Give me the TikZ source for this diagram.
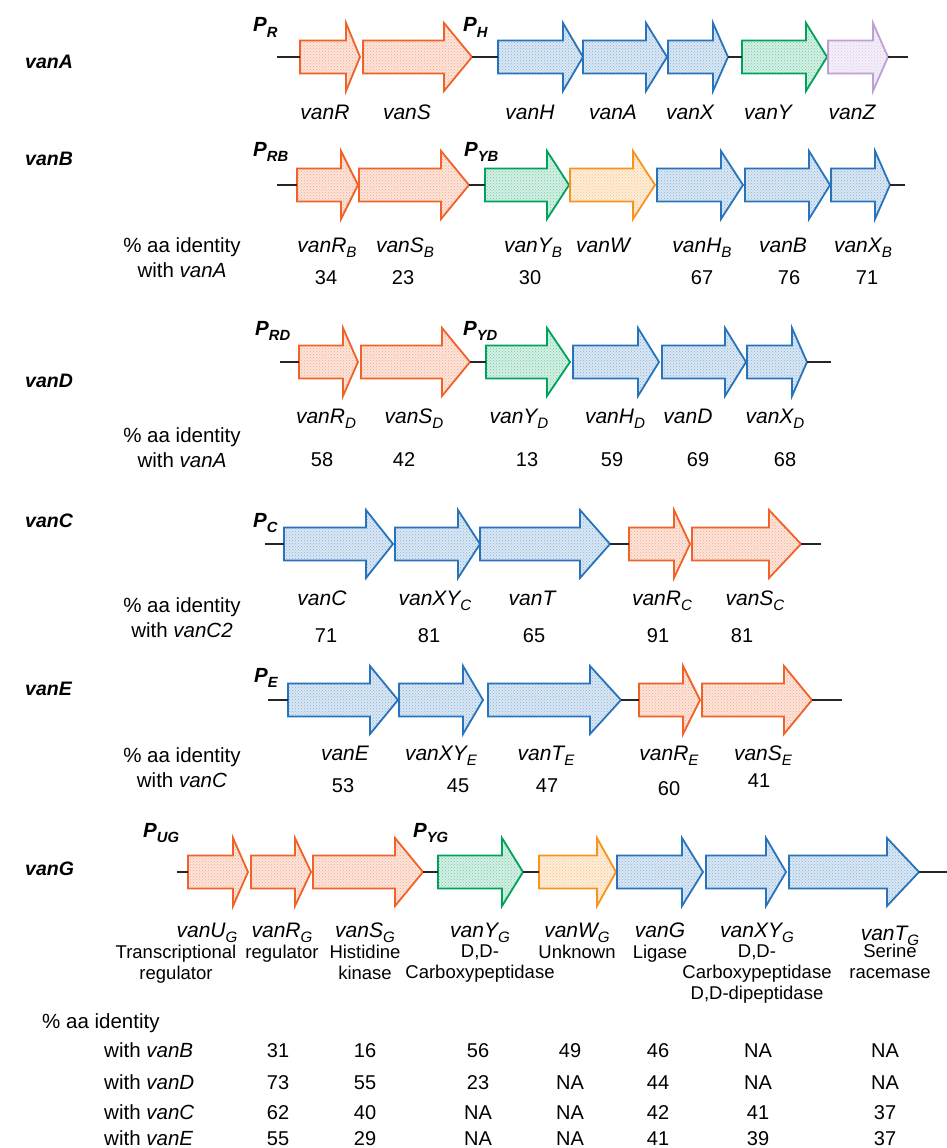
\documentclass[tikz,border=0pt]{standalone}
\usepackage{fontspec}
\setmainfont{Liberation Sans}
\usetikzlibrary{patterns}
\definecolor{vred}{RGB}{240,98,40}
\definecolor{vblue}{RGB}{40,116,188}
\definecolor{vgreen}{RGB}{0,163,92}
\definecolor{vorange}{RGB}{247,148,30}
\definecolor{vpurple}{RGB}{190,160,212}
\newcommand{\sbs}[1]{\raisebox{-0.25em}{\scalebox{0.72}{#1}}}
\newcommand{\gene}[6]{%
  \coordinate (#1-s) at (#2,#5);
  \coordinate (#1-e) at (#4,#5);
  \draw[genebox, draw=#6, preaction={fill=#6!17}, preaction={pattern=crosshatch dots, pattern color=#6!55}]
    (#2,#5-16.5) -- (#3,#5-16.5) -- (#3,#5-34) -- (#4,#5) -- (#3,#5+34) -- (#3,#5+16.5) -- (#2,#5+16.5) -- cycle;}
\tikzset{
  genebox/.style={line width=1.8pt, line join=miter},
  dna/.style={line width=1.5pt, draw=black!85},
  lbl/.style={font=\itshape\fontsize{21}{24}\selectfont, anchor=base, inner sep=0pt},
  num/.style={font=\fontsize{20}{24}\selectfont, anchor=base, inner sep=0pt},
  rowlbl/.style={font=\bfseries\itshape\fontsize{19.5}{22}\selectfont, anchor=base west, inner sep=0pt},
  prom/.style={font=\bfseries\itshape\fontsize{20.5}{22}\selectfont, anchor=base west, inner sep=0pt},
  idt/.style={font=\fontsize{20.5}{24}\selectfont, anchor=base, inner sep=0pt},
  desc/.style={font=\fontsize{18.5}{21}\selectfont, align=center, anchor=north, inner sep=0pt},
  tbl/.style={font=\fontsize{20.5}{24}\selectfont, anchor=base west, inner sep=0pt},
}
\begin{document}
\begin{tikzpicture}[x=1pt,y=-1pt]
\fill[white] (0,0) rectangle (947,1148);
\useasboundingbox (0,0) rectangle (947,1148);

% ---------------- vanA ----------------
\node[rowlbl] (rA) at (25,69) {vanA};
\coordinate (A0) at (277,57); \coordinate (A9) at (908,57);
\gene{AR}{300}{346}{360}{57}{vred}
\gene{AS}{363}{444}{472}{57}{vred}
\gene{AH}{498}{563}{583}{57}{vblue}
\gene{AA}{583}{646}{667}{57}{vblue}
\gene{AX}{668}{713}{728}{57}{vblue}
\gene{AY}{742}{806}{827}{57}{vgreen}
\gene{AZ}{828}{873}{888}{57}{vpurple}
\draw[dna] (A0) -- (AR-s);
\draw[dna] (AS-e) -- (AH-s);
\draw[dna] (AX-e) -- (AY-s);
\draw[dna] (AZ-e) -- (A9);
\node[prom] (pR) at (253,32) {P\sbs{R}};
\node[prom] (pH) at (463,32) {P\sbs{H}};
\node[lbl] (lAR) at (325,119) {vanR};
\node[lbl] (lAS) at (407,119) {vanS};
\node[lbl] (lAH) at (530,119) {vanH};
\node[lbl] (lAA) at (613,119) {vanA};
\node[lbl] (lAX) at (690,119) {vanX};
\node[lbl] (lAY) at (768,119) {vanY};
\node[lbl] (lAZ) at (852,119) {vanZ};

% ---------------- vanB ----------------
\node[rowlbl] (rB) at (25,165) {vanB};
\coordinate (B0) at (277,185); \coordinate (B9) at (905,185);
\gene{BR}{297}{341}{358}{185}{vred}
\gene{BS}{359}{441}{469}{185}{vred}
\gene{BY}{485}{547}{569}{185}{vgreen}
\gene{BW}{570}{633}{655}{185}{vorange}
\gene{BH}{657}{721}{743}{185}{vblue}
\gene{BB}{745}{809}{830}{185}{vblue}
\gene{BX}{831}{875}{890}{185}{vblue}
\draw[dna] (B0) -- (BR-s);
\draw[dna] (BS-e) -- (BY-s);
\draw[dna] (BX-e) -- (B9);
\node[prom] (pRB) at (253,156) {P\sbs{RB}};
\node[prom] (pYB) at (464,156) {P\sbs{YB}};
\node[lbl] (lBR) at (327,252) {vanR\sbs{B}};
\node[lbl] (lBS) at (405,252) {vanS\sbs{B}};
\node[lbl] (lBY) at (533,252) {vanY\sbs{B}};
\node[lbl] (lBW) at (603,252) {vanW};
\node[lbl] (lBH) at (702,252) {vanH\sbs{B}};
\node[lbl] (lBB) at (783,252) {vanB};
\node[lbl] (lBX) at (863,252) {vanX\sbs{B}};
\node[idt] (iB1) at (182,252) {\% aa identity};
\node[idt] (iB2) at (182,277) {with \textit{vanA}};
\node[num] (nB1) at (326,284) {34};
\node[num] (nB2) at (403,284) {23};
\node[num] (nB3) at (530,284) {30};
\node[num] (nB4) at (702,284) {67};
\node[num] (nB5) at (789,284) {76};
\node[num] (nB6) at (867,284) {71};

% ---------------- vanD ----------------
\node[rowlbl] (rD) at (25,387) {vanD};
\coordinate (D0) at (280,362); \coordinate (D9) at (831,362);
\gene{DR}{299}{343}{358}{362}{vred}
\gene{DS}{361}{442}{470}{362}{vred}
\gene{DY}{486}{547}{570}{362}{vgreen}
\gene{DH}{573}{638}{659}{362}{vblue}
\gene{DD}{662}{725}{746}{362}{vblue}
\gene{DX}{747}{792}{807}{362}{vblue}
\draw[dna] (D0) -- (DR-s);
\draw[dna] (DS-e) -- (DY-s);
\draw[dna] (DX-e) -- (D9);
\node[prom] (pRD) at (255,335) {P\sbs{RD}};
\node[prom] (pYD) at (463,335) {P\sbs{YD}};
\node[lbl] (lDR) at (326,423) {vanR\sbs{D}};
\node[lbl] (lDS) at (414,423) {vanS\sbs{D}};
\node[lbl] (lDY) at (519,423) {vanY\sbs{D}};
\node[lbl] (lDH) at (615,423) {vanH\sbs{D}};
\node[lbl] (lDD) at (688,423) {vanD};
\node[lbl] (lDX) at (775,423) {vanX\sbs{D}};
\node[idt] (iD1) at (182,442) {\% aa identity};
\node[idt] (iD2) at (182,467) {with \textit{vanA}};
\node[num] (nD1) at (322,466) {58};
\node[num] (nD2) at (404,466) {42};
\node[num] (nD3) at (527,466) {13};
\node[num] (nD4) at (612,466) {59};
\node[num] (nD5) at (698,466) {69};
\node[num] (nD6) at (785,466) {68};

% ---------------- vanC ----------------
\node[rowlbl] (rC) at (25,527) {vanC};
\coordinate (C0) at (265,544); \coordinate (C9) at (821,544);
\gene{CC}{284}{366}{393}{544}{vblue}
\gene{CXY}{395}{458}{480}{544}{vblue}
\gene{CT}{480}{580}{610}{544}{vblue}
\gene{CR}{629}{674}{690}{544}{vred}
\gene{CS}{692}{769}{801}{544}{vred}
\draw[dna] (C0) -- (CC-s);
\draw[dna] (CT-e) -- (CR-s);
\draw[dna] (CS-e) -- (C9);
\node[prom] (pC) at (253,527) {P\sbs{C}};
\node[lbl] (lCC) at (322,605) {vanC};
\node[lbl] (lCXY) at (435,605) {vanXY\sbs{C}};
\node[lbl] (lCT) at (532,605) {vanT};
\node[lbl] (lCR) at (662,605) {vanR\sbs{C}};
\node[lbl] (lCS) at (755,605) {vanS\sbs{C}};
\node[idt] (iC1) at (182,612) {\% aa identity};
\node[idt] (iC2) at (182,637) {with \textit{vanC2}};
\node[num] (nC1) at (326,642) {71};
\node[num] (nC2) at (429,642) {81};
\node[num] (nC3) at (534,642) {65};
\node[num] (nC4) at (658,642) {91};
\node[num] (nC5) at (742,642) {81};

% ---------------- vanE ----------------
\node[rowlbl] (rE) at (25,695) {vanE};
\coordinate (E0) at (268,700); \coordinate (E9) at (842,700);
\gene{EE}{288}{370}{398}{700}{vblue}
\gene{EXY}{399}{463}{483}{700}{vblue}
\gene{ET}{488}{590}{621}{700}{vblue}
\gene{ER}{639}{683}{700}{700}{vred}
\gene{ES}{702}{784}{812}{700}{vred}
\draw[dna] (E0) -- (EE-s);
\draw[dna] (ET-e) -- (ER-s);
\draw[dna] (ES-e) -- (E9);
\node[prom] (pE) at (254,682) {P\sbs{E}};
\node[lbl] (lEE) at (345,760) {vanE};
\node[lbl] (lEXY) at (441,760) {vanXY\sbs{E}};
\node[lbl] (lET) at (546,760) {vanT\sbs{E}};
\node[lbl] (lER) at (669,760) {vanR\sbs{E}};
\node[lbl] (lES) at (763,760) {vanS\sbs{E}};
\node[idt] (iE1) at (182,762) {\% aa identity};
\node[idt] (iE2) at (182,787) {with \textit{vanC}};
\node[num] (nE1) at (343,792) {53};
\node[num] (nE2) at (458,792) {45};
\node[num] (nE3) at (547,792) {47};
\node[num] (nE4) at (669,795) {60};
\node[num] (nE5) at (759,787) {41};

% ---------------- vanG ----------------
\node[rowlbl] (rG) at (25,875) {vanG};
\coordinate (G0) at (177,872); \coordinate (G9) at (947,872);
\gene{GU}{188}{233}{248}{872}{vred}
\gene{GR}{251}{295}{311}{872}{vred}
\gene{GS}{313}{395}{423}{872}{vred}
\gene{GY}{438}{502}{523}{872}{vgreen}
\gene{GW}{539}{597}{616}{872}{vorange}
\gene{GG}{617}{682}{703}{872}{vblue}
\gene{GXY}{706}{766}{786}{872}{vblue}
\gene{GT}{789}{887}{919}{872}{vblue}
\draw[dna] (G0) -- (GU-s);
\draw[dna] (GS-e) -- (GY-s);
\draw[dna] (GY-e) -- (GW-s);
\draw[dna] (GT-e) -- (G9);
\node[prom] (pUG) at (143,837) {P\sbs{UG}};
\node[prom] (pYG) at (413,837) {P\sbs{YG}};
\node[lbl] (lGU) at (207,937) {vanU\sbs{G}};
\node[lbl] (lGR) at (282,937) {vanR\sbs{G}};
\node[lbl] (lGS) at (365,937) {vanS\sbs{G}};
\node[lbl] (lGY) at (480,937) {vanY\sbs{G}};
\node[lbl] (lGW) at (577,937) {vanW\sbs{G}};
\node[lbl] (lGG) at (660,937) {vanG};
\node[lbl] (lGXY) at (757,937) {vanXY\sbs{G}};
\node[lbl] (lGT) at (890,940) {vanT\sbs{G}};
\node[desc] (dGU) at (176,945) {Transcriptional\\regulator};
\node[desc] (dGR) at (282,945) {regulator};
\node[desc] (dGS) at (365,945) {Histidine\\kinase};
\node[desc] (dGY) at (480,945) {D,D-\\Carboxypeptidase};
\node[desc] (dGW) at (577,945) {Unknown};
\node[desc] (dGG) at (660,945) {Ligase};
\node[desc] (dGXY) at (757,945) {D,D-\\Carboxypeptidase\\D,D-dipeptidase};
\node[desc] (dGT) at (890,944) {Serine\\racemase};

% ---------------- table ----------------
\node[tbl] (t0) at (42,1028) {\% aa identity};
\node[tbl] (tB) at (104,1057) {with \textit{vanB}};
\node[tbl] (tD) at (104,1089) {with \textit{vanD}};
\node[tbl] (tC) at (104,1119) {with \textit{vanC}};
\node[tbl] (tE) at (104,1145) {with \textit{vanE}};
\foreach \r/\y/\a/\b/\c/\d/\e/\f/\g in {
  B/1057/31/16/56/49/46/NA/NA,
  D/1089/73/55/23/NA/44/NA/NA,
  C/1119/62/40/NA/NA/42/41/37,
  E/1145/55/29/NA/NA/41/39/37}{
  \node[num] (t\r1) at (278,\y) {\a};
  \node[num] (t\r2) at (365,\y) {\b};
  \node[num] (t\r3) at (478,\y) {\c};
  \node[num] (t\r4) at (570,\y) {\d};
  \node[num] (t\r5) at (658,\y) {\e};
  \node[num] (t\r6) at (758,\y) {\f};
  \node[num] (t\r7) at (885,\y) {\g};
}
\end{tikzpicture}
\end{document}
